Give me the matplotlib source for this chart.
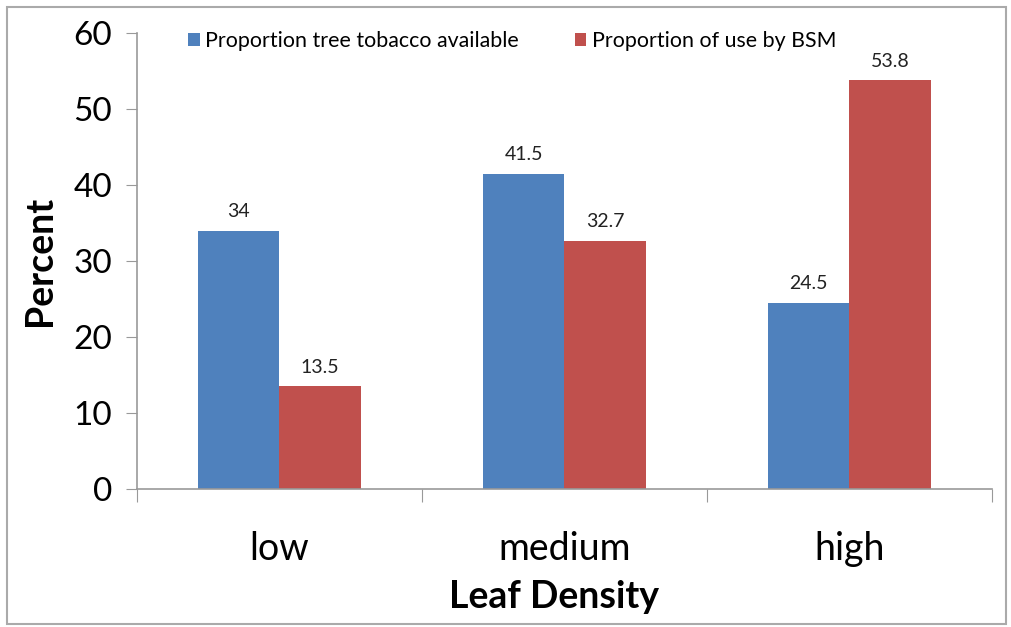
import matplotlib
matplotlib.use("Agg")
import matplotlib.pyplot as plt
from matplotlib.patches import Rectangle
import numpy as np

categories = ["low", "medium", "high"]
available = [34, 41.5, 24.5]
use_bsm = [13.5, 32.7, 53.8]
series_names = ["Proportion tree tobacco available", "Proportion of use by BSM"]
label_avail = ["34", "41.5", "24.5"]
label_use = ["13.5", "32.7", "53.8"]

plt.rcParams['font.family'] = ['Lato', 'DejaVu Sans']

fig = plt.figure(figsize=(10.11, 6.27), dpi=100)
ax = fig.add_axes([0.1355, 0.22, 0.8455, 0.727])

x = np.arange(len(categories))
w = 0.285
blue = "#4f81bd"
red = "#c0504d"
b1 = ax.bar(x - w/2, available, w, color=blue, label=series_names[0])
b2 = ax.bar(x + w/2, use_bsm, w, color=red, label=series_names[1])

for rect, lab in zip(b1, label_avail):
    ax.text(rect.get_x() + rect.get_width()/2, rect.get_height() + 1.4, lab,
            ha="center", va="bottom", fontsize=14, color="#222222")
for rect, lab in zip(b2, label_use):
    ax.text(rect.get_x() + rect.get_width()/2, rect.get_height() + 1.4, lab,
            ha="center", va="bottom", fontsize=14, color="#222222")

ax.set_xlim(-0.5, 2.5)
ax.set_ylim(0, 60)
ax.set_yticks(range(0, 61, 10))
ax.set_xticks([-0.5, 0.5, 1.5, 2.5], minor=False)
ax.set_xticklabels([])
ax.set_xticks(x, minor=True)
ax.set_xticklabels(categories, minor=True, fontsize=27)
ax.tick_params(axis="x", which="minor", length=0, pad=30)
ax.tick_params(axis="x", which="major", length=9, color="#999999", direction="out")
ax.tick_params(axis="y", length=8, color="#999999", labelsize=24, pad=10)

for s in ["top", "right"]:
    ax.spines[s].set_visible(False)
for s in ["left", "bottom"]:
    ax.spines[s].set_color("#999999")
    ax.spines[s].set_linewidth(1.2)

ax.set_ylabel("Percent", fontsize=27, fontweight="bold", labelpad=12)
ax.set_xlabel("Leaf Density", fontsize=27, fontweight="bold", labelpad=8)
ax.xaxis.set_label_coords(0.488, -0.2)
ax.xaxis.label.set_va("top")

ax.legend(loc="center", bbox_to_anchor=(0.439, 0.983), ncol=2, frameon=False,
          fontsize=15.4, handlelength=0.55, handleheight=0.55, handletextpad=0.25,
          columnspacing=2.6)

fig.patches.append(Rectangle((0.007, 0.004), 0.988, 0.985, transform=fig.transFigure,
                             fill=False, edgecolor="#aaaaaa", linewidth=1.5))

fig.savefig("out.png", dpi=100)
